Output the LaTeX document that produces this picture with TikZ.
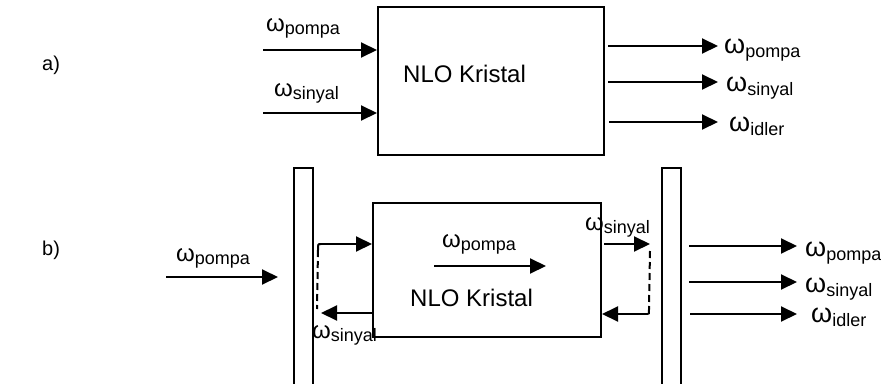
\documentclass[tikz,border=0pt]{standalone}
\usepackage{fontspec}
\setmainfont{Liberation Sans}
\usetikzlibrary{arrows.meta,calc}
\newcommand{\om}[1]{{\fontsize{27}{27}\selectfont ω}\raisebox{-4pt}{\fontsize{18}{18}\selectfont #1}}
\newcommand{\omi}[1]{{\fontsize{24}{24}\selectfont ω}\raisebox{-3pt}{\fontsize{18}{18}\selectfont #1}}
\tikzset{
  arr/.style={line width=2pt,-{Triangle[length=16pt,width=15pt]}},
  frame/.style={draw,line width=2pt,inner sep=0pt},
  lbl/.style={inner sep=0pt,anchor=base west},
  txt/.style={inner sep=0pt,anchor=base west,font=\fontsize{24}{24}\selectfont},
  fb/.style={line width=2pt,dash pattern=on 7pt off 4pt},
}
\begin{document}
\begin{tikzpicture}[x=1pt,y=-1pt]
\clip (0,0) rectangle (881,383);
\fill[white] (0,0) rectangle (881,383);
% ---------- a)
\node[inner sep=0pt,anchor=base west,font=\fontsize{20}{20}\selectfont] (la) at (42,70) {a)};
\node[frame,minimum width=226pt,minimum height=148pt] (boxa) at (491,81) {};
\node[txt] (ta) at (403,82) {NLO Kristal};
\coordinate (ai1) at (263,50);
\coordinate (ai2) at (263,113);
\draw[arr] (ai1) -- (ai1 -| boxa.west);
\draw[arr] (ai2) -- (ai2 -| boxa.west);
\node[lbl] (aip) at (266,31) {\omi{pompa}};
\node[lbl] (ais) at (274,96) {\omi{sinyal}};
\coordinate (ao1) at (718,46);
\coordinate (ao2) at (718,82);
\coordinate (ao3) at (718,122);
\draw[arr] ($(ao1 -| boxa.east)+(3,0)$) -- (ao1);
\draw[arr] ($(ao2 -| boxa.east)+(3,0)$) -- (ao2);
\draw[arr] ($(ao3 -| boxa.east)+(4,0)$) -- (ao3);
\node[lbl] (aop) at (724,53) {\om{pompa}};
\node[lbl] (aos) at (726,91) {\om{sinyal}};
\node[lbl] (aoi) at (729,131) {\om{idler}};
% ---------- b)
\node[inner sep=0pt,anchor=base west,font=\fontsize{20}{20}\selectfont] (lb) at (42,255) {b)};
\node[frame,minimum width=19pt,minimum height=240pt,anchor=north west] (m1) at (293,167) {};
\node[frame,minimum width=19pt,minimum height=240pt,anchor=north west] (m2) at (661,167) {};
\node[frame,minimum width=228pt,minimum height=134pt] (boxb) at (487,270) {};
\node[txt] (tb) at (410,306) {NLO Kristal};
% input
\coordinate (bi) at (166,277);
\draw[arr] (bi) -- ($(bi -| m1.west)+(-15,0)$);
\node[lbl] (bip) at (176,261) {\omi{pompa}};
% inside crystal
\coordinate (bc1) at (434,266);
\coordinate (bc2) at (546,266);
\draw[arr] (bc1) -- (bc2);
\node[lbl] (bcp) at (442,247) {\omi{pompa}};
% left feedback
\coordinate (lf1) at (321,244);
\coordinate (lf2) at (321,313);
\draw[arr] (lf1) -- (lf1 -| boxb.west);
\draw[arr] (lf2 -| boxb.west) -- (lf2);
\draw[line width=2pt] (lf1) .. controls (318,244) .. (318,250);
\draw[fb] (318,250) -- (317,309);
\node[lbl] (lfs) at (312,338) {\omi{sinyal}};
% right feedback
\coordinate (rf1) at (650,244);
\coordinate (rf2) at (648,314);
\draw[arr] ($(rf1 -| boxb.east)+(2,0)$) -- (rf1);
\draw[arr] (rf2) -- (rf2 -| boxb.east);
\draw[fb] (650,251) -- (649,308);
\draw[line width=2pt] (649,308) .. controls (649,314) .. (rf2);
\node[lbl] (rfs) at (585,230) {\omi{sinyal}};
% outputs
\coordinate (bo1) at (797,246);
\coordinate (bo2) at (797,282);
\coordinate (bo3) at (797,314);
\draw[arr] ($(bo1 -| m2.east)+(7,0)$) -- (bo1);
\draw[arr] ($(bo2 -| m2.east)+(7,0)$) -- (bo2);
\draw[arr] ($(bo3 -| m2.east)+(8,0)$) -- (bo3);
\node[lbl] (bop) at (805,256) {\om{pompa}};
\node[lbl] (bos) at (805,292) {\om{sinyal}};
\node[lbl] (boi) at (811,322) {\om{idler}};
\end{tikzpicture}
\end{document}
